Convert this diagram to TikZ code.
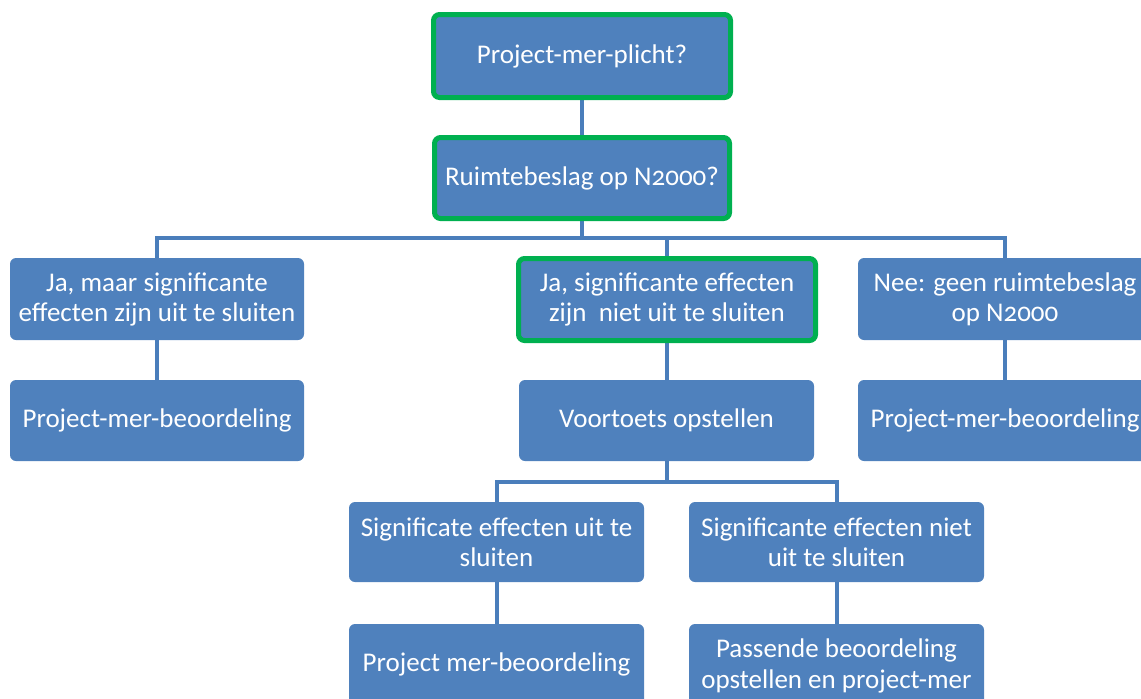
\documentclass[tikz,border=0pt]{standalone}
\usepackage{fontspec}
\setmainfont{Carlito}[Numbers=OldStyle]
\usetikzlibrary{backgrounds}
\definecolor{boxblue}{HTML}{4F81BD}
\definecolor{lineblue}{HTML}{4A7EBB}
\definecolor{okgreen}{HTML}{00B050}
\tikzset{
  stepbox/.style={rectangle, rounded corners=6pt, fill=boxblue, draw=none,
    text=white, align=center, inner sep=0pt, outer sep=0pt,
    font=\fontsize{27}{30}\selectfont},
  greenbox/.style={stepbox, draw=okgreen, line width=5pt},
  conn/.style={draw=lineblue, line width=4pt, line join=miter, line cap=butt},
}
\begin{document}
\begin{tikzpicture}[x=1pt,y=-1pt]
\useasboundingbox (0,0) rectangle (1141,699);
% level 1-2
\node[greenbox, minimum width=297pt, minimum height=83pt] (b1) at (582,56) {Project-mer-plicht?};
\node[greenbox, minimum width=295pt, minimum height=81pt] (b2) at (582,178) {Ruimtebeslag op N2000?};
% level 3
\node[stepbox, minimum width=294pt, minimum height=82pt] (b3l) at (157,299) {Ja, maar significante\\effecten zijn uit te sluiten};
\node[greenbox, minimum width=297pt, minimum height=82pt] (b3m) at (667,299.5) {Ja, significante effecten\\zijn\ \ niet uit te sluiten};
\node[stepbox, minimum width=294pt, minimum height=82pt] (b3r) at (1005,299) {Nee: geen ruimtebeslag\\op N2000};
% level 4
\node[stepbox, minimum width=294pt, minimum height=81pt] (b4l) at (157,420.5) {Project-mer-beoordeling};
\node[stepbox, minimum width=295pt, minimum height=81pt] (b4m) at (666.5,420.5) {Voortoets opstellen};
\node[stepbox, minimum width=294pt, minimum height=81pt] (b4r) at (1005,420.5) {Project-mer-beoordeling};
% level 5
\node[stepbox, minimum width=295pt, minimum height=80pt] (b5l) at (496.5,542) {Significate effecten uit te\\sluiten};
\node[stepbox, minimum width=295pt, minimum height=80pt] (b5r) at (836.5,542) {Significante effecten niet\\uit te sluiten};
% level 6
\node[stepbox, minimum width=295pt, minimum height=81pt] (b6l) at (496.5,664.5) {Project mer-beoordeling};
\node[stepbox, minimum width=295pt, minimum height=120pt, anchor=north] (b6r) at (836.5,624) {};
\node[text=white, align=center, inner sep=0pt, font=\fontsize{27}{31}\selectfont, anchor=north] (b6rt) at (836.5,639) {Passende beoordeling\\opstellen en project-mer};
% connectors
\coordinate (busA) at (582,238);
\coordinate (busB) at (667,482);
\begin{scope}[on background layer]
\draw[conn] (b1.south) -- (b2.north);
\draw[conn] (b2.south) -- (busA);
\draw[conn] (b3l.north) |- (busA) -| (b3r.north);
\draw[conn] (b3m.north) -- (b3m.north |- busA);
\draw[conn] (b3l.south) -- (b4l.north);
\draw[conn] (b3m.south) -- (b3m.south |- b4m.north);
\draw[conn] (b3r.south) -- (b4r.north);
\draw[conn] (b4m.south -| busB) -- (busB);
\draw[conn] (b5l.north) |- (busB) -| (b5r.north);
\draw[conn] (b5l.south) -- (b6l.north);
\draw[conn] (b5r.south) -- (b6r.north);
\end{scope}
\end{tikzpicture}
\end{document}
